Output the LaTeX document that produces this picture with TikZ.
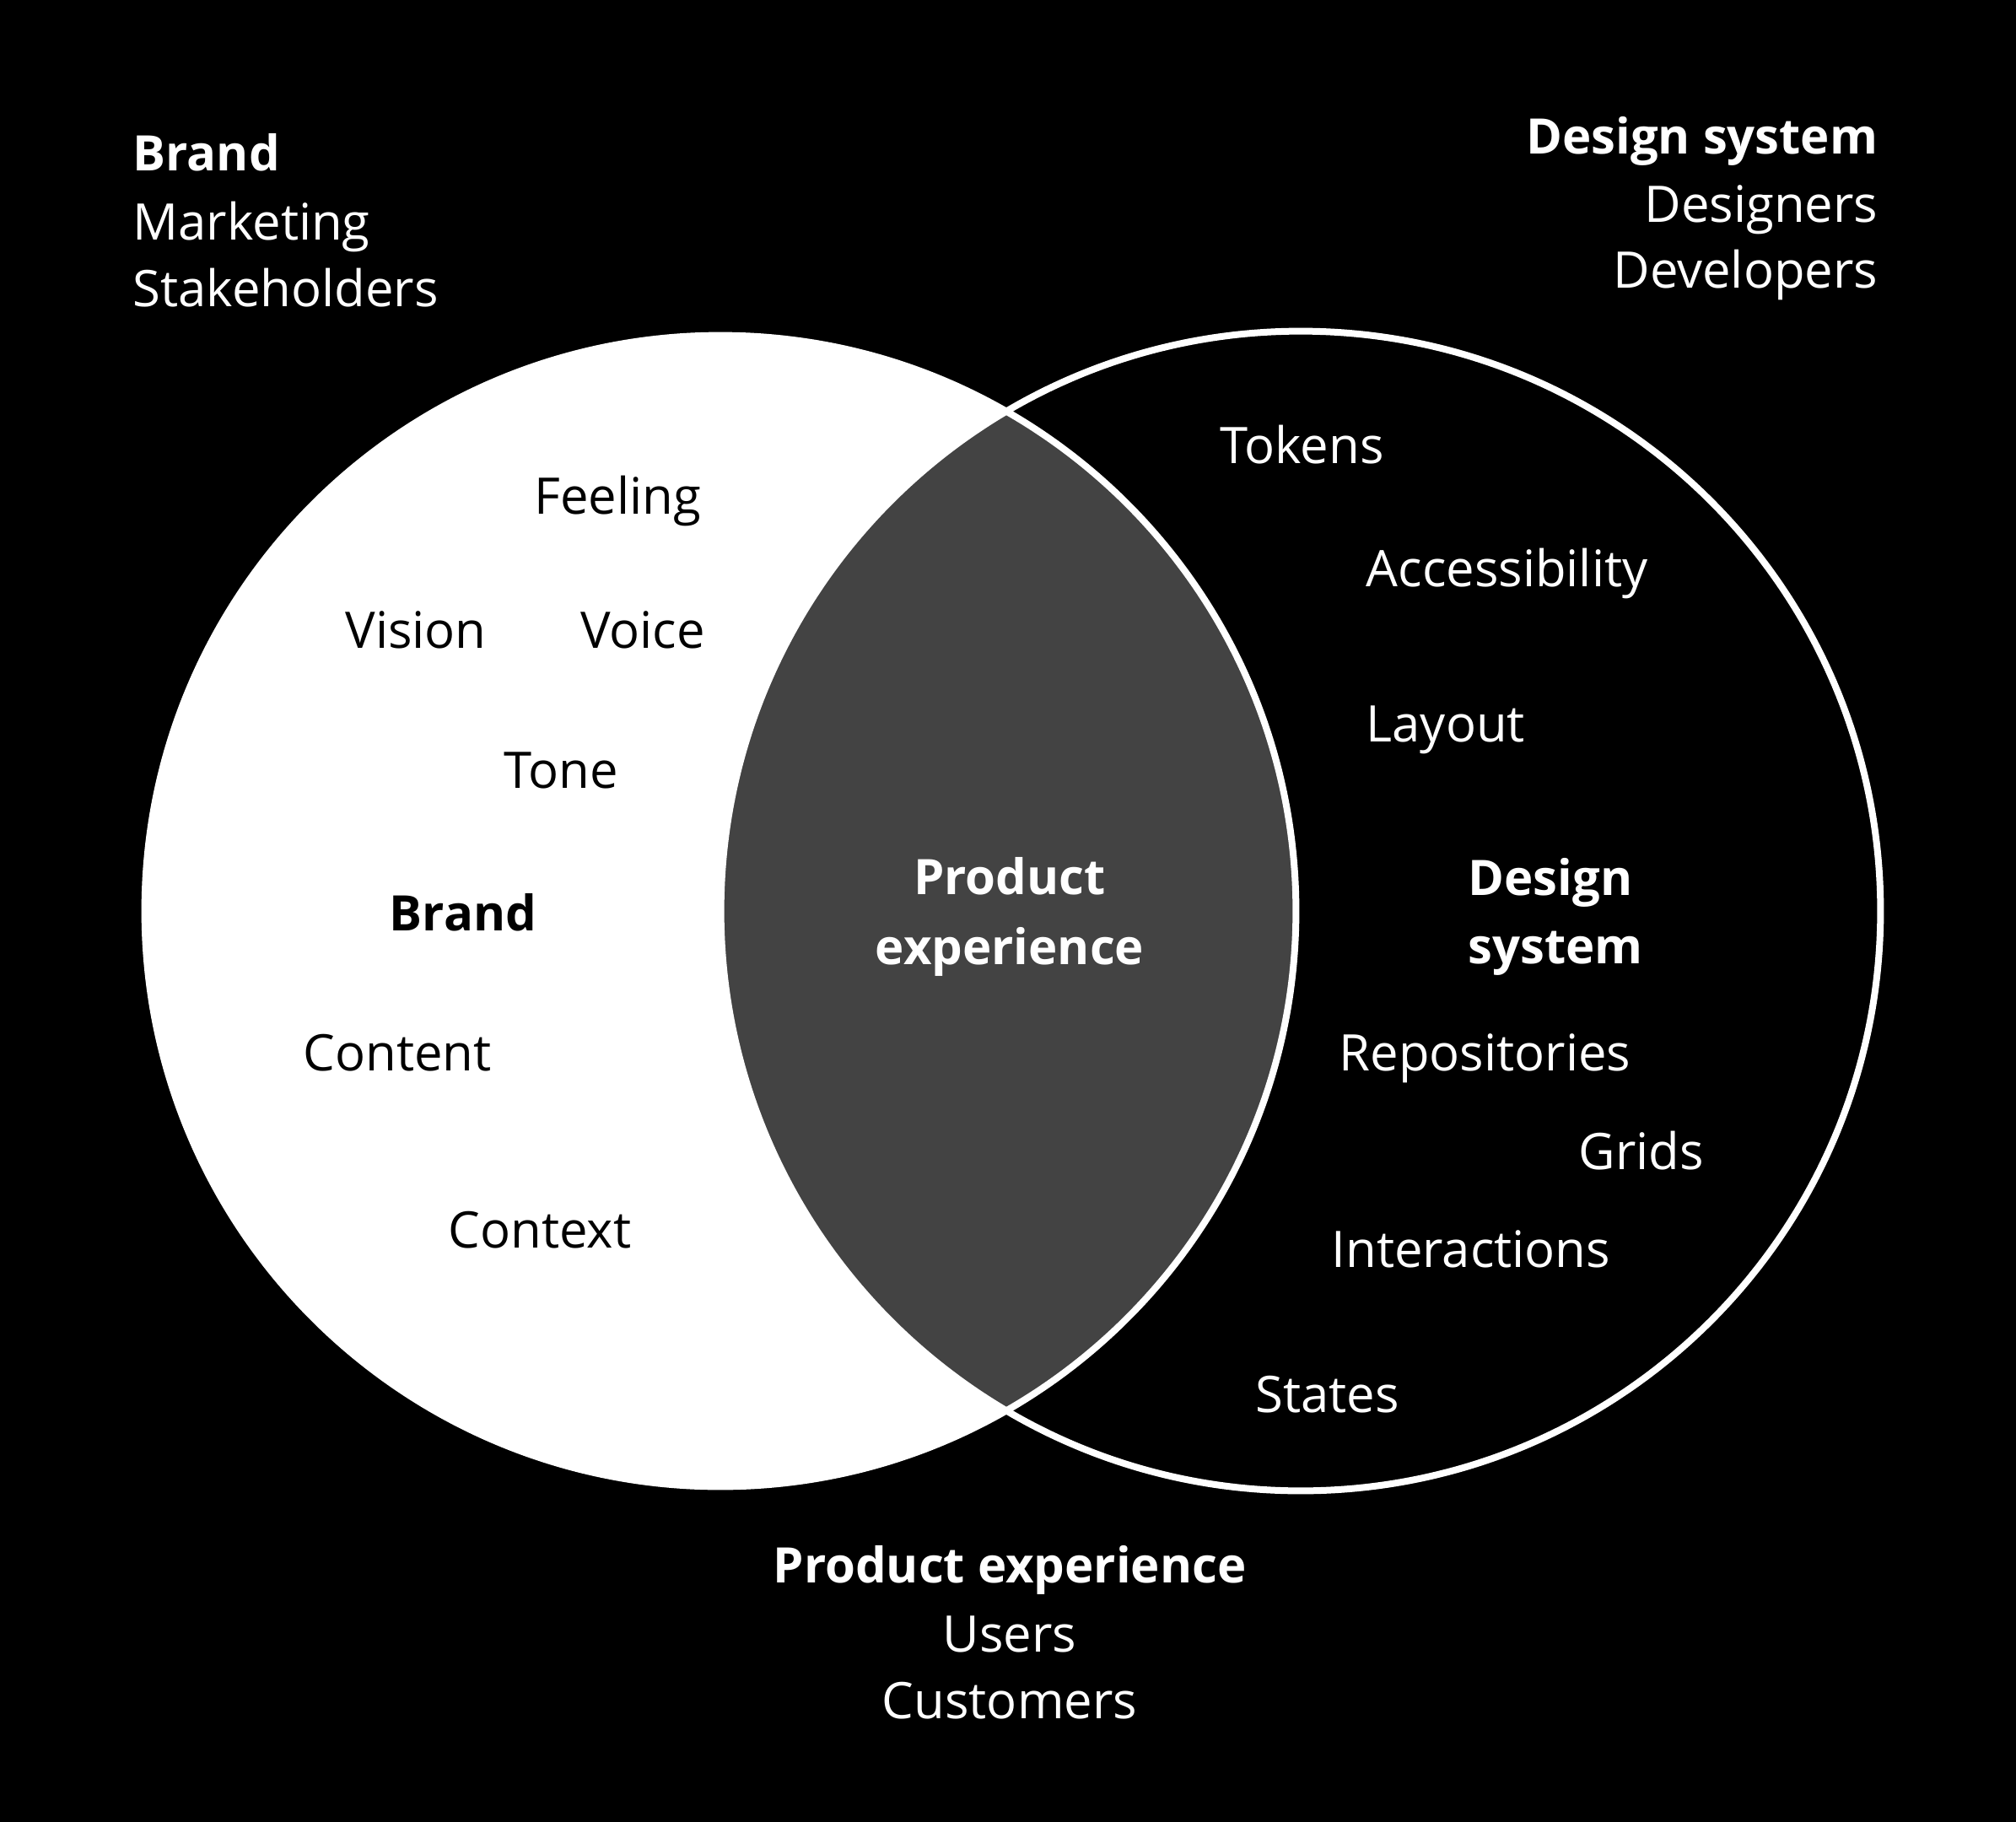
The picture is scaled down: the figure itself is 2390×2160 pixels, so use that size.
\documentclass[tikz,border=0pt]{standalone}
\usepackage{fontspec}
\setmainfont{Open Sans}
\usepackage{xcolor}
\definecolor{lensgray}{RGB}{67,67,67}

\begin{document}
\begin{tikzpicture}[x=0.01cm,y=-0.01cm,
    txt/.style={inner sep=0pt,font=\fontsize{17}{20}\selectfont},
    hd/.style={inner sep=0pt,font=\fontsize{16.5}{20}\selectfont\bfseries}]
            \path[use as bounding box,fill=black] (0,0) rectangle (2390,2160);

            \coordinate (cl) at (854,1080);
            \coordinate (cr) at (1542,1080);
            \fill[white] (cl) circle (6.82cm);
            \begin{scope}
                \clip (cl) circle (6.82cm);
                \fill[lensgray] (cr) circle (6.87cm);
            \end{scope}
            \draw[white,line width=0.08cm] (cl) circle (6.82cm) (cr) circle (6.87cm);

            % corner legends
            \node[hd,white,anchor=base west]  (tl-brand)  at (157,202) {Brand};
            \node[txt,white,anchor=base west] (tl-mkt)    at (157,284) {Marketing};
            \node[txt,white,anchor=base west] (tl-stake)  at (157,363) {Stakeholders};

            \node[hd,white,anchor=base east]  (tr-ds)     at (2227,182) {Design system};
            \node[txt,white,anchor=base east] (tr-des)    at (2227,263) {Designers};
            \node[txt,white,anchor=base east] (tr-dev)    at (2227,341) {Developers};

            \node[hd,white,anchor=base]  (bt-pe)   at (1197,1876) {Product experience};
            \node[txt,white,anchor=base] (bt-user) at (1197,1958) {Users};
            \node[txt,white,anchor=base] (bt-cust) at (1197,2037) {Customers};

            % brand circle
            \node[txt,anchor=base] (feeling) at (732,609)  {Feeling};
            \node[txt,anchor=base] (vision)  at (493,768)  {Vision};
            \node[txt,anchor=base] (voice)   at (762,768)  {Voice};
            \node[txt,anchor=base] (tone)    at (665,934)  {Tone};
            \node[hd,anchor=base]  (brand)   at (549,1103) {Brand};
            \node[txt,anchor=base] (content) at (471,1269) {Content};
            \node[txt,anchor=base] (context) at (640,1479) {Context};

            % overlap
            \node[hd,white,anchor=base] (pe-1) at (1197,1060) {Product};
            \node[hd,white,anchor=base] (pe-2) at (1197,1143) {experience};

            % design system circle
            \node[txt,white,anchor=base west] (tokens) at (1446,549)  {Tokens};
            \node[txt,white,anchor=base west] (access) at (1619,695)  {Accessibility};
            \node[txt,white,anchor=base west] (layout) at (1619,879)  {Layout};
            \node[hd,white,anchor=base west]  (ds-1)   at (1740,1061) {Design};
            \node[hd,white,anchor=base west]  (ds-2)   at (1740,1142) {system};
            \node[txt,white,anchor=base west] (repos)  at (1587,1269) {Repositories};
            \node[txt,white,anchor=base west] (grids)  at (1871,1386) {Grids};
            \node[txt,white,anchor=base west] (inter)  at (1578,1502) {Interactions};
            \node[txt,white,anchor=base west] (states) at (1488,1674) {States};
\end{tikzpicture}
\end{document}
